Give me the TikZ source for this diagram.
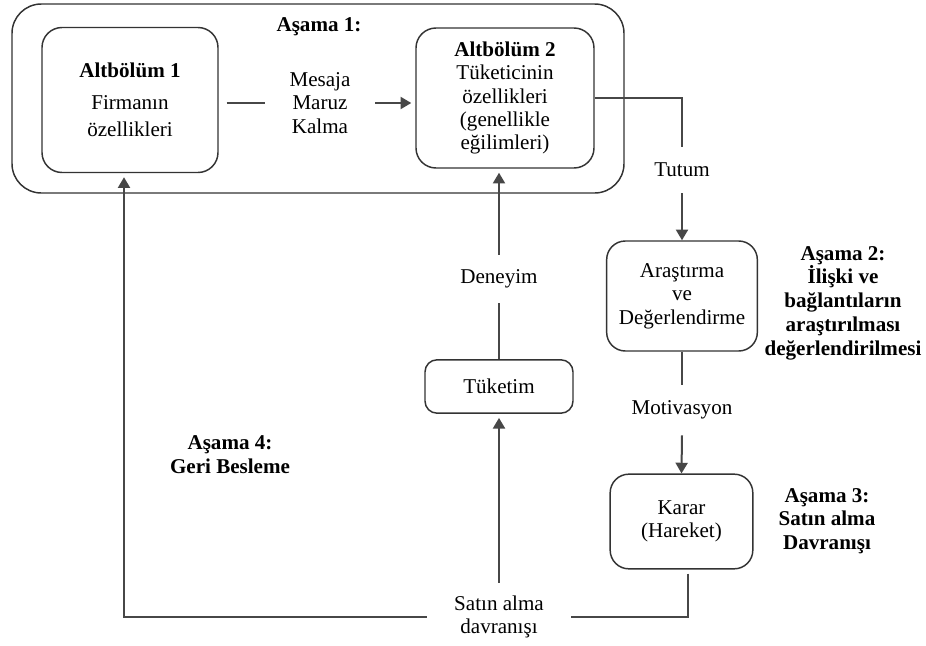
\documentclass[tikz,border=0pt]{standalone}
\usepackage{fontspec}
\setmainfont{Liberation Serif}
\usetikzlibrary{arrows.meta}
\begin{document}
\begin{tikzpicture}[x=0.75pt,y=-0.75pt,
  font=\fontsize{15.8}{17.6}\selectfont,
  box/.style={draw=black!80, line width=1.1pt, align=center, inner sep=0pt},
  conn/.style={draw=black!72, line width=1.5pt},
  arr/.style={conn, -{Triangle[length=8pt,width=9pt]}},
  lbl/.style={align=center, inner sep=0pt},
  stagelbl/.style={align=center, inner sep=0pt, font=\fontsize{15.8}{17.8}\selectfont\bfseries}]
\useasboundingbox (0,0) rectangle (926,646);
% stage 1 frame
\draw[box, rounded corners=22pt] (12,4) rectangle (624,193);
\node[stagelbl] (s1) at (319,27) {Aşama 1:};
% nodes
\node[box, rounded corners=15pt, minimum width=132pt, minimum height=108.75pt] (b1) at (130,100)
  {\textbf{Altbölüm 1}\\[6pt]Firmanın\\[3pt]özellikleri};
\node[box, rounded corners=15pt, minimum width=133.5pt, minimum height=105pt] (b2) at (505,98)
  {\textbf{Altbölüm 2}\\Tüketicinin\\özellikleri\\(genellikle\\eğilimleri)};
\node[lbl, minimum width=82.5pt] (m) at (320,103) {Mesaja\\Maruz\\Kalma};
\node[lbl, minimum height=34.5pt] (tut) at (682,170) {Tutum};
\node[box, rounded corners=14pt, minimum width=113pt, minimum height=82.5pt] (ar) at (682,296)
  {Araştırma\\ve\\Değerlendirme};
\node[lbl, minimum height=37.5pt] (mo) at (682,410) {Motivasyon};
\node[box, rounded corners=14pt, minimum width=107pt, minimum height=71pt] (ka) at (681.5,521.5)
  {Karar\\(Hareket)};
\node[box, rounded corners=9pt, minimum width=111pt, minimum height=40pt] (tu) at (499,386.5) {Tüketim};
\node[lbl, minimum height=36pt] (de) at (499,279) {Deneyim};
\node[lbl, minimum width=108pt, minimum height=51pt] (sa) at (499,617) {Satın alma\\davranışı};
% stage labels
\node[stagelbl] (s2) at (843,303) {Aşama 2:\\İlişki ve\\bağlantıların\\araştırılması\\değerlendirilmesi};
\node[stagelbl] (s3) at (827,521) {Aşama 3:\\Satın alma\\Davranışı};
\node[stagelbl] (s4) at (230,455) {Aşama 4:\\Geri Besleme};
% connectors
\draw[conn, shorten <=6pt] (b1.east |- m) -- (m.west);
\draw[arr, shorten >=3pt] (m.east) -- (b2.west |- m);
\draw[conn] (b2.east) -| (tut.north);
\draw[arr] (tut.south) -- (ar.north);
\draw[conn] (ar.south) -- (mo.north);
\draw[arr] (mo.south) -- (ka.north);
\draw[conn, shorten <=3pt] ([xshift=4.9pt]ka.south) |- (sa.east);
\draw[arr, shorten >=3pt] (sa.west) -| ([xshift=-4.5pt]b1.south);
\draw[arr, shorten >=3pt] (sa.north) -- (tu.south);
\draw[conn] (tu.north) -- (de.south);
\draw[arr, shorten >=3pt] (de.north) -- (de.north |- b2.south);
\end{tikzpicture}
\end{document}
